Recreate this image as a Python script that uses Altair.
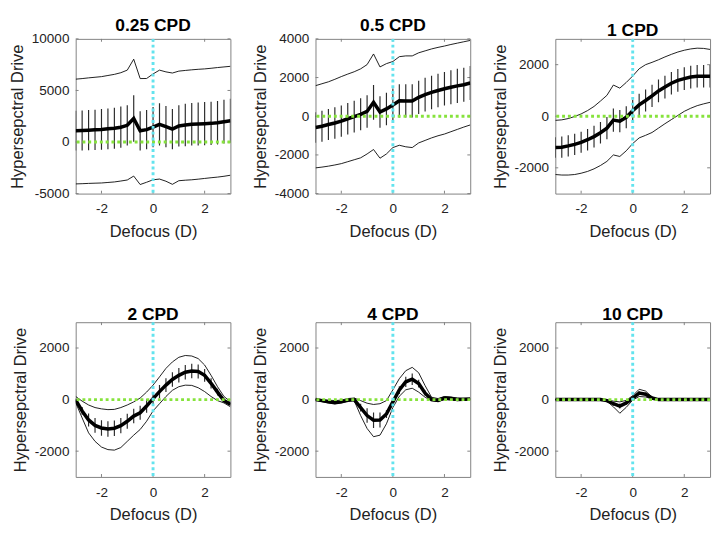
import altair as alt
import pandas as pd

DEFOCUS = [-3.0, -2.75, -2.5, -2.25, -2.0, -1.75, -1.5, -1.25, -1.0, -0.75, -0.5, -0.25,
           0.0, 0.25, 0.5, 0.75, 1.0, 1.25, 1.5, 1.75, 2.0, 2.25, 2.5, 2.75, 3.0]

TITLES = ["0.25 CPD", "0.5 CPD", "1 CPD", "2 CPD", "4 CPD", "10 CPD"]

# 0.25 CPD
MEAN_1 = [1100, 1120, 1150, 1180, 1220, 1280, 1340, 1440, 1620, 2280, 1090, 1200, 1450,
          1720, 1500, 1250, 1560, 1650, 1720, 1750, 1780, 1810, 1875, 1970, 2060]
SD_1 = [1930, 1940, 1950, 1960, 1970, 1980, 1990, 2000, 1950, 2250, 1900, 1900, 1950,
        2050, 2000, 1950, 2000, 2050, 2060, 2080, 2090, 2100, 2110, 2120, 2130]
UP_1 = [6094, 6150, 6220, 6280, 6340, 6450, 6560, 6720, 6970, 8030, 6150, 6160, 6600,
        6970, 6800, 6690, 6875, 6940, 7000, 7050, 7090, 7150, 7220, 7280, 7340]
LO_1 = [-4060, -4040, -4010, -3990, -3970, -3920, -3870, -3780, -3680, -3300, -4120, -3900, -3660,
        -3590, -3800, -4100, -3750, -3700, -3660, -3600, -3530, -3460, -3400, -3320, -3220]

# 0.5 CPD
MEAN_2 = [-580, -520, -430, -350, -250, -130, -20, 100, 250, 720, 220, 380, 580,
          800, 790, 790, 980, 1120, 1230, 1330, 1420, 1500, 1570, 1630, 1720]
SD_2 = [790, 800, 800, 810, 810, 820, 820, 830, 840, 900, 820, 840, 850,
        860, 860, 860, 860, 870, 870, 870, 870, 880, 880, 880, 880]
UP_2 = [1580, 1680, 1780, 1910, 2050, 2180, 2300, 2450, 2670, 3220, 2550, 2720, 2830,
        3080, 3120, 3120, 3280, 3380, 3480, 3560, 3630, 3710, 3780, 3850, 3920]
LO_2 = [-2670, -2630, -2580, -2520, -2450, -2350, -2250, -2150, -1950, -1720, -2170, -1950, -1620,
        -1500, -1580, -1620, -1380, -1250, -1120, -1010, -920, -800, -680, -560, -450]

# 1 CPD
MEAN_3 = [-1210, -1200, -1150, -1090, -1010, -910, -790, -640, -460, -150, -190, -40, 210,
          440, 610, 790, 980, 1130, 1280, 1390, 1460, 1520, 1550, 1550, 1550]
SD_3 = [400, 410, 410, 410, 410, 420, 420, 420, 430, 450, 430, 430, 430,
        430, 430, 430, 440, 440, 440, 440, 440, 440, 440, 440, 440]
UP_3 = [-160, -140, -90, -10, 90, 220, 380, 590, 810, 1210, 1090, 1310, 1560,
        1840, 2000, 2090, 2190, 2300, 2400, 2490, 2560, 2610, 2640, 2630, 2590]
LO_3 = [-2260, -2280, -2280, -2260, -2210, -2140, -2040, -1910, -1750, -1500, -1560, -1340, -1060,
        -840, -740, -630, -460, -290, -130, 30, 190, 310, 410, 480, 540]

# 2 CPD
MEAN_4 = [-20, -440, -790, -1000, -1100, -1140, -1110, -1010, -840, -640, -510, -250, 40,
          310, 560, 780, 940, 1060, 1110, 1090, 940, 630, 290, -40, -180]
SD_4 = [60, 150, 250, 290, 300, 300, 300, 300, 290, 280, 270, 260, 250,
        260, 270, 280, 280, 280, 280, 270, 250, 200, 130, 60, 60]
UP_4 = [120, -60, -210, -310, -360, -390, -380, -310, -210, -90, 60, 290, 560,
        880, 1210, 1460, 1640, 1710, 1690, 1590, 1340, 940, 500, 120, -80]
LO_4 = [-120, -710, -1290, -1620, -1840, -1940, -1960, -1860, -1620, -1380, -1160, -840, -440,
        -160, 120, 360, 500, 560, 550, 460, 310, 120, -40, -130, -280]

# 4 CPD
MEAN_5 = [0, -40, -90, -120, -90, -30, 0, -310, -620, -800, -790, -560, -90,
          370, 690, 790, 620, 250, 0, -30, 60, 40, 0, 10, 20]
SD_5 = [40, 40, 40, 40, 40, 40, 40, 150, 280, 300, 290, 150, 100,
        150, 200, 220, 150, 100, 40, 40, 40, 40, 40, 40, 40]
UP_5 = [20, 0, -20, -40, -20, 40, 60, -40, -140, -190, -160, -40, 380,
        810, 1120, 1250, 1040, 540, 90, 40, 120, 100, 60, 40, 40]
LO_5 = [-20, -80, -130, -160, -130, -60, -40, -620, -1120, -1440, -1380, -940, -310,
        130, 380, 440, 290, 90, -40, -70, 0, -20, -40, -20, -10]

# 10 CPD
MEAN_6 = [0, 0, 0, 0, 0, 0, 0, 0, -40, -160, -250, -130, 60,
          250, 210, 60, 0, 0, 0, 0, 0, 0, 0, 0, 0]
SD_6 = [30, 30, 30, 30, 30, 30, 30, 30, 40, 80, 100, 60, 40,
        70, 60, 30, 30, 30, 30, 30, 30, 30, 30, 30, 30]
UP_6 = [0, 0, 0, 0, 0, 0, 0, 0, -10, -60, -90, -30, 150,
        400, 330, 100, 0, 0, 0, 0, 0, 0, 0, 0, 0]
LO_6 = [0, 0, 0, 0, 0, 0, 0, 0, -60, -280, -530, -300, -20,
        120, 100, 30, 0, 0, 0, 0, 0, 0, 0, 0, 0]

MEANS = [MEAN_1, MEAN_2, MEAN_3, MEAN_4, MEAN_5, MEAN_6]
SDS = [SD_1, SD_2, SD_3, SD_4, SD_5, SD_6]
UPS = [UP_1, UP_2, UP_3, UP_4, UP_5, UP_6]
LOS = [LO_1, LO_2, LO_3, LO_4, LO_5, LO_6]

Y_DOMAINS = [[-5000, 10000], [-4000, 4000], [-3000, 3000], [-3000, 3000], [-3000, 3000], [-3000, 3000]]
Y_TICKS = [[-5000, 0, 5000, 10000], [-4000, -2000, 0, 2000, 4000], [-2000, 0, 2000],
           [-2000, 0, 2000], [-2000, 0, 2000], [-2000, 0, 2000]]
X_DOMAIN = [-3, 3]
X_TICKS = [-2, 0, 2]

FONT = "Liberation Sans"
W = 160
H = 160
FRAME = "#808080"
CYAN = "#63E3EE"
GREEN = "#86E33C"
TEXT = "#222222"


def panel(i):
    df = pd.DataFrame({
        "x": DEFOCUS,
        "mean": MEANS[i],
        "sd": SDS[i],
        "upper": UPS[i],
        "lower": LOS[i],
    })
    df["lo"] = df["mean"] - df["sd"]
    df["hi"] = df["mean"] + df["sd"]

    xscale = alt.Scale(domain=X_DOMAIN, nice=False, zero=False)
    yscale = alt.Scale(domain=Y_DOMAINS[i], nice=False, zero=False)
    xaxis = alt.Axis(values=X_TICKS, title="Defocus (D)", labelExpr="'' + datum.value",
                     grid=False, domain=False, ticks=False, labelPadding=9,
                     labelFont=FONT, labelFontSize=14, labelColor=TEXT,
                     titleFont=FONT, titleFontSize=17, titleFontWeight="normal",
                     titleColor=TEXT, titlePadding=8)
    yaxis = alt.Axis(values=Y_TICKS[i], title="Hypersepctral Drive", labelExpr="'' + datum.value",
                     grid=False, domain=False, ticks=False, labelPadding=7,
                     labelFont=FONT, labelFontSize=14, labelColor=TEXT,
                     titleFont=FONT, titleFontSize=17, titleFontWeight="normal",
                     titleColor=TEXT, titlePadding=5)

    def X(field):
        return alt.X(field, type="quantitative", scale=xscale, axis=xaxis)

    def Y(field):
        return alt.Y(field, type="quantitative", scale=yscale, axis=yaxis)

    base = alt.Chart(df)
    bars = base.mark_rule(color="#2a2a2a", strokeWidth=1.2, clip=True).encode(
        x=X("x"), y=Y("lo"), y2="hi")
    up = base.mark_line(color="black", strokeWidth=0.9, clip=True).encode(x=X("x"), y=Y("upper"))
    lo = base.mark_line(color="black", strokeWidth=0.9, clip=True).encode(x=X("x"), y=Y("lower"))
    mean = base.mark_line(color="black", strokeWidth=3.6, clip=True).encode(x=X("x"), y=Y("mean"))

    zero_h = alt.Chart(pd.DataFrame({"v": [0]})).mark_rule(
        color=GREEN, strokeWidth=3, strokeDash=[3, 3]).encode(y=Y("v"))
    zero_v = alt.Chart(pd.DataFrame({"v": [0]})).mark_rule(
        color=CYAN, strokeWidth=3, strokeDash=[3, 3]).encode(x=X("v"))

    xt = pd.DataFrame({"t": X_TICKS})
    yt = pd.DataFrame({"t": Y_TICKS[i]})
    tick_b = alt.Chart(xt).mark_rule(color=FRAME, strokeWidth=1).encode(
        x=X("t"), y=alt.value(H), y2=alt.value(H - 3))
    tick_t = alt.Chart(xt).mark_rule(color=FRAME, strokeWidth=1).encode(
        x=X("t"), y=alt.value(0), y2=alt.value(3))
    tick_l = alt.Chart(yt).mark_rule(color=FRAME, strokeWidth=1).encode(
        y=Y("t"), x=alt.value(0), x2=alt.value(3))
    tick_r = alt.Chart(yt).mark_rule(color=FRAME, strokeWidth=1).encode(
        y=Y("t"), x=alt.value(W), x2=alt.value(W - 3))

    return alt.layer(tick_b, tick_t, tick_l, tick_r, bars, up, lo, mean, zero_h, zero_v).properties(
        width=W, height=H,
        title=alt.TitleParams(TITLES[i], fontSize=18, fontWeight="bold", font=FONT,
                              color="black", offset=-3, frame="group"),
    )


row1 = alt.hconcat(panel(0), panel(1), panel(2), spacing=19)
row2 = alt.hconcat(panel(3), panel(4), panel(5), spacing=19)
chart = alt.vconcat(row1, row2, spacing=68).properties(padding=0).configure_view(
    stroke=FRAME, strokeWidth=1
)

chart.save("out.html", embed_options={"renderer": "svg", "actions": False})
